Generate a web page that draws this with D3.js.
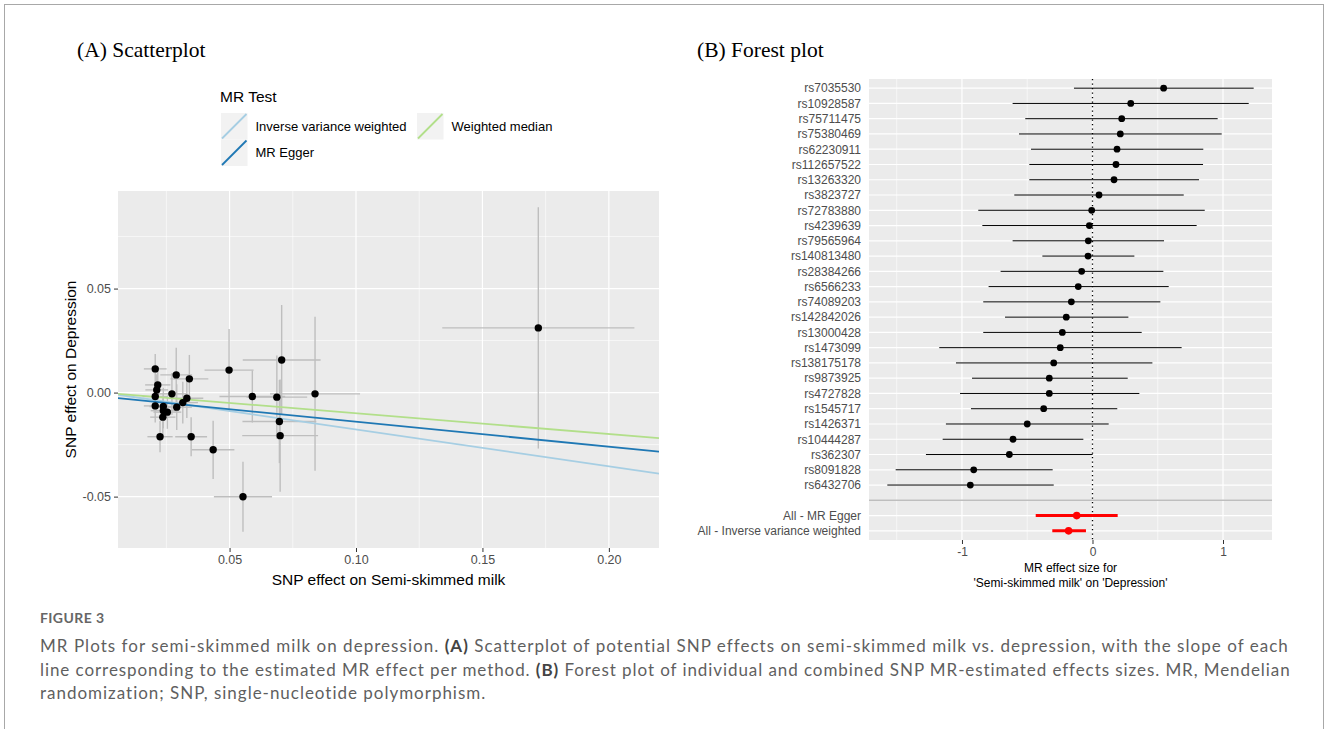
<!DOCTYPE html>
<html>
<head>
<meta charset="utf-8">
<script src="https://cdn.jsdelivr.net/npm/d3@7"></script>
<style>
body { margin: 0; background: #fff; }
</style>
</head>
<body>
<svg id="fig" width="1328" height="729"></svg>
<script>
//scatterplot data: SNP effect on semi-skimmed milk (x) and on depression (y), with standard errors
var snpBetaX = [0.0206, 0.0216, 0.0212, 0.0206, 0.0206, 0.0238, 0.0238, 0.0254, 0.0236, 0.0272,
                0.0331, 0.0315, 0.0291, 0.0225, 0.0348, 0.0435, 0.0590, 0.0687, 0.0697, 0.0700,
                0.0838, 0.0553, 0.0341, 0.0289, 0.0498, 0.0706, 0.1721];
var snpBetaY = [0.0114, 0.0037, 0.0013, -0.0019, -0.0064, -0.0067, -0.0087, -0.0094, -0.0118, -0.0006,
                -0.0027, -0.0048, -0.0070, -0.0212, -0.0212, -0.0275, -0.0019, -0.0022, -0.0139, -0.0207,
                -0.0006, -0.0501, 0.0066, 0.0085, 0.0108, 0.0157, 0.0311];
var snpSeX = [0.0045, 0.0050, 0.0045, 0.0050, 0.0045, 0.0055, 0.0050, 0.0055, 0.0050, 0.0060,
              0.0065, 0.0060, 0.0060, 0.0050, 0.0063, 0.0084, 0.0130, 0.0120, 0.0146, 0.0150,
              0.0178, 0.0115, 0.0075, 0.0063, 0.0097, 0.0154, 0.0380];
var snpSeY = [0.0072, 0.0080, 0.0075, 0.0070, 0.0080, 0.0090, 0.0085, 0.0080, 0.0090, 0.0100,
              0.0095, 0.0100, 0.0110, 0.0075, 0.0094, 0.0140, 0.0125, 0.0200, 0.0200, 0.0270,
              0.0370, 0.0168, 0.0115, 0.0130, 0.0198, 0.0264, 0.0580];

//MR methods drawn as lines (slope and intercept)
var methodNames = ["Inverse variance weighted", "MR Egger", "Weighted median"];
var methodSlopes = [-0.177, -0.120, -0.0995];
var methodIntercepts = [0, -0.0020, 0];
var methodColors = ["#a6cee3", "#1f78b4", "#b2df8a"];

//forest plot data, single SNPs (top to bottom)
var forestSnps = ["rs7035530", "rs10928587", "rs75711475", "rs75380469", "rs62230911", "rs112657522",
                  "rs13263320", "rs3823727", "rs72783880", "rs4239639", "rs79565964", "rs140813480",
                  "rs28384266", "rs6566233", "rs74089203", "rs142842026", "rs13000428", "rs1473099",
                  "rs138175178", "rs9873925", "rs4727828", "rs1545717", "rs1426371", "rs10444287",
                  "rs362307", "rs8091828", "rs6432706"];
var forestB = [0.545, 0.293, 0.224, 0.213, 0.188, 0.180, 0.165, 0.050, -0.006, -0.024,
               -0.032, -0.034, -0.083, -0.109, -0.162, -0.201, -0.231, -0.247, -0.297, -0.331,
               -0.331, -0.374, -0.500, -0.609, -0.637, -0.910, -0.936];
var forestLo = [-0.142, -0.612, -0.515, -0.563, -0.471, -0.484, -0.484, -0.599, -0.875, -0.844,
                -0.612, -0.384, -0.704, -0.796, -0.837, -0.670, -0.837, -1.174, -1.046, -0.923,
                -1.015, -0.931, -1.123, -1.148, -1.276, -1.508, -1.572];
var forestHi = [1.235, 1.197, 0.959, 0.990, 0.849, 0.847, 0.816, 0.699, 0.860, 0.798,
                0.548, 0.321, 0.543, 0.584, 0.520, 0.275, 0.377, 0.683, 0.459, 0.270,
                0.359, 0.190, 0.124, -0.070, 0.001, -0.305, -0.297];

//forest plot data, combined estimates
var summaryNames = ["All - MR Egger", "All - Inverse variance weighted"];
var summaryB = [-0.121, -0.183];
var summaryLo = [-0.435, -0.308];
var summaryHi = [0.193, -0.050];

//tick values
var scatterXTicks = [0.05, 0.10, 0.15, 0.20];
var scatterYTicks = [-0.05, 0.00, 0.05];
var forestXTicks = [-1, 0, 1];

var svg = d3.select("#fig");
var sans = "'Liberation Sans', Arial, sans-serif";
var grey = "#4d4d4d";

//outer frame of the figure
svg.append("rect")
    .attr("x", 4.5).attr("y", 4.5)
    .attr("width", 1319).attr("height", 760)
    .attr("fill", "none").attr("stroke", "#a8a8a8");

//panel titles
svg.append("text").attr("x", 77).attr("y", 57)
    .attr("font-family", "'Liberation Serif', 'Times New Roman', serif")
    .attr("font-size", 21.5).text("(A) Scatterplot");
svg.append("text").attr("x", 697).attr("y", 57)
    .attr("font-family", "'Liberation Serif', 'Times New Roman', serif")
    .attr("font-size", 21.5).text("(B) Forest plot");

//ggplot style gives minor breaks half way between major breaks
function minorBreaks(major, domain) {
    var step = major[1] - major[0];
    var out = [];
    for (var i = -1; i < major.length; i++) {
        var v = major[0] + step * (i + 0.5);
        if (v > domain[0] && v < domain[1]) out.push(v);
    }
    return out;
}

//5% expansion like ggplot continuous scales
function expand(lo, hi) {
    var r = hi - lo;
    return [lo - 0.05 * r, hi + 0.05 * r];
}

// ---------------- (A) scatterplot ----------------
var pA = {left: 118, right: 659, top: 191, bottom: 548};

var xDomA = expand(d3.min(snpBetaX, function(d, i) { return d - snpSeX[i]; }),
                   d3.max(snpBetaX, function(d, i) { return d + snpSeX[i]; }));
var yDomA = expand(d3.min(snpBetaY, function(d, i) { return d - snpSeY[i]; }),
                   d3.max(snpBetaY, function(d, i) { return d + snpSeY[i]; }));

var xA = d3.scaleLinear().domain(xDomA).range([pA.left, pA.right]);
var yA = d3.scaleLinear().domain(yDomA).range([pA.bottom, pA.top]);

var gA = svg.append("g");

gA.append("rect")
    .attr("x", pA.left).attr("y", pA.top)
    .attr("width", pA.right - pA.left).attr("height", pA.bottom - pA.top)
    .attr("fill", "#ebebeb");

//minor grid
gA.selectAll(".vminor").data(minorBreaks(scatterXTicks, xDomA)).enter().append("line")
    .attr("x1", function(d) { return xA(d); }).attr("x2", function(d) { return xA(d); })
    .attr("y1", pA.top).attr("y2", pA.bottom)
    .attr("stroke", "#fff").attr("stroke-width", 0.6);
gA.selectAll(".hminor").data(minorBreaks(scatterYTicks, yDomA)).enter().append("line")
    .attr("y1", function(d) { return yA(d); }).attr("y2", function(d) { return yA(d); })
    .attr("x1", pA.left).attr("x2", pA.right)
    .attr("stroke", "#fff").attr("stroke-width", 0.6);
//major grid
gA.selectAll(".vmajor").data(scatterXTicks).enter().append("line")
    .attr("x1", function(d) { return xA(d); }).attr("x2", function(d) { return xA(d); })
    .attr("y1", pA.top).attr("y2", pA.bottom)
    .attr("stroke", "#fff").attr("stroke-width", 1.2);
gA.selectAll(".hmajor").data(scatterYTicks).enter().append("line")
    .attr("y1", function(d) { return yA(d); }).attr("y2", function(d) { return yA(d); })
    .attr("x1", pA.left).attr("x2", pA.right)
    .attr("stroke", "#fff").attr("stroke-width", 1.2);

svg.append("clipPath").attr("id", "clipA").append("rect")
    .attr("x", pA.left).attr("y", pA.top)
    .attr("width", pA.right - pA.left).attr("height", pA.bottom - pA.top);

var idx = d3.range(snpBetaX.length);

//vertical and horizontal error bars
gA.selectAll(".ebv").data(idx).enter().append("line")
    .attr("x1", function(i) { return xA(snpBetaX[i]); })
    .attr("x2", function(i) { return xA(snpBetaX[i]); })
    .attr("y1", function(i) { return yA(snpBetaY[i] - snpSeY[i]); })
    .attr("y2", function(i) { return yA(snpBetaY[i] + snpSeY[i]); })
    .attr("stroke", "#bebebe").attr("stroke-width", 1.4);
gA.selectAll(".ebh").data(idx).enter().append("line")
    .attr("y1", function(i) { return yA(snpBetaY[i]); })
    .attr("y2", function(i) { return yA(snpBetaY[i]); })
    .attr("x1", function(i) { return xA(snpBetaX[i] - snpSeX[i]); })
    .attr("x2", function(i) { return xA(snpBetaX[i] + snpSeX[i]); })
    .attr("stroke", "#bebebe").attr("stroke-width", 1.4);

//method lines across the whole panel
gA.append("g").attr("clip-path", "url(#clipA)")
    .selectAll("line").data(d3.range(methodNames.length)).enter().append("line")
    .attr("x1", xA(xDomA[0])).attr("x2", xA(xDomA[1]))
    .attr("y1", function(m) { return yA(methodIntercepts[m] + methodSlopes[m] * xDomA[0]); })
    .attr("y2", function(m) { return yA(methodIntercepts[m] + methodSlopes[m] * xDomA[1]); })
    .attr("stroke", function(m) { return methodColors[m]; })
    .attr("stroke-width", 1.8);

//points
gA.selectAll("circle").data(idx).enter().append("circle")
    .attr("cx", function(i) { return xA(snpBetaX[i]); })
    .attr("cy", function(i) { return yA(snpBetaY[i]); })
    .attr("r", 3.7).attr("fill", "#000");

//axes
var axAx = gA.append("g").attr("transform", "translate(0," + pA.bottom + ")")
    .call(d3.axisBottom(xA).tickValues(scatterXTicks).tickFormat(d3.format(".2f")).tickSize(4).tickPadding(3));
var axAy = gA.append("g").attr("transform", "translate(" + pA.left + ",0)")
    .call(d3.axisLeft(yA).tickValues(scatterYTicks).tickFormat(function(d) { return d3.format(".2f")(d).replace("−", "-"); }).tickSize(4).tickPadding(3));
[axAx, axAy].forEach(function(a) {
    a.select(".domain").remove();
    a.selectAll("line").attr("stroke", "#333");
    a.selectAll("text").attr("fill", grey).attr("font-size", 12.5).attr("font-family", sans);
});

gA.append("text")
    .attr("x", (pA.left + pA.right) / 2).attr("y", 585)
    .attr("text-anchor", "middle").attr("font-family", sans).attr("font-size", 15.5)
    .text("SNP effect on Semi-skimmed milk");
gA.append("text")
    .attr("transform", "translate(76," + (pA.top + pA.bottom) / 2 + ") rotate(-90)")
    .attr("text-anchor", "middle").attr("font-family", sans).attr("font-size", 15.5)
    .text("SNP effect on Depression");

//legend
var leg = svg.append("g");
leg.append("text").attr("x", 220).attr("y", 102)
    .attr("font-family", sans).attr("font-size", 15.5).text("MR Test");
var keyPos = [[221, 113], [221, 139.5], [417, 113]];
var keySize = 26.5;
keyPos.forEach(function(p, m) {
    leg.append("rect").attr("x", p[0]).attr("y", p[1])
        .attr("width", keySize).attr("height", keySize).attr("fill", "#f2f2f2");
    leg.append("line")
        .attr("x1", p[0] + 1).attr("y1", p[1] + keySize - 1)
        .attr("x2", p[0] + keySize - 1).attr("y2", p[1] + 1)
        .attr("stroke", methodColors[m]).attr("stroke-width", 1.8);
    leg.append("text").attr("x", p[0] + keySize + 8).attr("y", p[1] + keySize / 2 + 4.5)
        .attr("font-family", sans).attr("font-size", 13).text(methodNames[m]);
});

// ---------------- (B) forest plot ----------------
var pB = {left: 869, right: 1272, top: 79, bottom: 540};

var rows = forestSnps.concat([""], summaryNames);
var yB = d3.scalePoint().domain(rows).range([pB.top, pB.bottom]).padding(0.6);

var xDomB = expand(d3.min(forestLo.concat(summaryLo)), d3.max(forestHi.concat(summaryHi)));
var xB = d3.scaleLinear().domain(xDomB).range([pB.left, pB.right]);

var gB = svg.append("g");
gB.append("rect")
    .attr("x", pB.left).attr("y", pB.top)
    .attr("width", pB.right - pB.left).attr("height", pB.bottom - pB.top)
    .attr("fill", "#ebebeb");

gB.selectAll(".vminor").data(minorBreaks(forestXTicks, xDomB)).enter().append("line")
    .attr("x1", function(d) { return xB(d); }).attr("x2", function(d) { return xB(d); })
    .attr("y1", pB.top).attr("y2", pB.bottom)
    .attr("stroke", "#fff").attr("stroke-width", 0.6);
gB.selectAll(".vmajor").data(forestXTicks).enter().append("line")
    .attr("x1", function(d) { return xB(d); }).attr("x2", function(d) { return xB(d); })
    .attr("y1", pB.top).attr("y2", pB.bottom)
    .attr("stroke", "#fff").attr("stroke-width", 1.2);
gB.selectAll(".hmajor").data(rows).enter().append("line")
    .attr("y1", function(d) { return yB(d); }).attr("y2", function(d) { return yB(d); })
    .attr("x1", pB.left).attr("x2", pB.right)
    .attr("stroke", "#fff").attr("stroke-width", 1.2);

//separator before the combined estimates
gB.append("line")
    .attr("x1", pB.left).attr("x2", pB.right)
    .attr("y1", yB("")).attr("y2", yB(""))
    .attr("stroke", "#bebebe").attr("stroke-width", 1.4);

//null effect line
gB.append("line")
    .attr("x1", xB(0)).attr("x2", xB(0))
    .attr("y1", pB.top).attr("y2", pB.bottom)
    .attr("stroke", "#000").attr("stroke-width", 1.3)
    .attr("stroke-dasharray", "1.3,3.2");

var fi = d3.range(forestSnps.length);
gB.selectAll(".ci").data(fi).enter().append("line")
    .attr("x1", function(i) { return xB(forestLo[i]); })
    .attr("x2", function(i) { return xB(forestHi[i]); })
    .attr("y1", function(i) { return yB(forestSnps[i]); })
    .attr("y2", function(i) { return yB(forestSnps[i]); })
    .attr("stroke", "#000").attr("stroke-width", 1);
gB.selectAll(".pt").data(fi).enter().append("circle")
    .attr("cx", function(i) { return xB(forestB[i]); })
    .attr("cy", function(i) { return yB(forestSnps[i]); })
    .attr("r", 3.4).attr("fill", "#000");

var si = d3.range(summaryNames.length);
gB.selectAll(".sci").data(si).enter().append("line")
    .attr("x1", function(i) { return xB(summaryLo[i]); })
    .attr("x2", function(i) { return xB(summaryHi[i]); })
    .attr("y1", function(i) { return yB(summaryNames[i]); })
    .attr("y2", function(i) { return yB(summaryNames[i]); })
    .attr("stroke", "#ff0000").attr("stroke-width", 3);
gB.selectAll(".spt").data(si).enter().append("circle")
    .attr("cx", function(i) { return xB(summaryB[i]); })
    .attr("cy", function(i) { return yB(summaryNames[i]); })
    .attr("r", 3.8).attr("fill", "#ff0000");

var axBx = gB.append("g").attr("transform", "translate(0," + pB.bottom + ")")
    .call(d3.axisBottom(xB).tickValues(forestXTicks).tickFormat(function(d) { return String(d); }).tickSize(4).tickPadding(3));
axBx.select(".domain").remove();
axBx.selectAll("line").attr("stroke", "#333");
axBx.selectAll("text").attr("fill", grey).attr("font-size", 12).attr("font-family", sans);

//row labels
gB.selectAll(".lab").data(rows).enter().append("text")
    .attr("x", 861).attr("y", function(d) { return yB(d) + 4.3; })
    .attr("text-anchor", "end").attr("fill", grey)
    .attr("font-family", sans).attr("font-size", 12)
    .text(function(d) { return d; });

gB.append("text").attr("x", (pB.left + pB.right) / 2).attr("y", 572)
    .attr("text-anchor", "middle").attr("font-family", sans).attr("font-size", 12)
    .text("MR effect size for");
gB.append("text").attr("x", (pB.left + pB.right) / 2).attr("y", 587)
    .attr("text-anchor", "middle").attr("font-family", sans).attr("font-size", 12)
    .text("'Semi-skimmed milk' on 'Depression'");

// ---------------- caption ----------------
var capFont = "Lato, 'Open Sans', sans-serif";
svg.append("text").attr("x", 40).attr("y", 623)
    .attr("font-family", capFont).attr("font-size", 14).attr("font-weight", 700)
    .attr("letter-spacing", 0.4)
    .attr("fill", "#666").text("FIGURE 3");

var capLines = [
    [["MR Plots for semi-skimmed milk on depression. ", 0], ["(A)", 1],
     [" Scatterplot of potential SNP effects on semi-skimmed milk vs. depression, with the slope of each", 0]],
    [["line corresponding to the estimated MR effect per method. ", 0], ["(B)", 1],
     [" Forest plot of individual and combined SNP MR-estimated effects sizes. MR, Mendelian", 0]],
    [["randomization; SNP, single-nucleotide polymorphism.", 0]]
];
//right end of each caption line in the figure (last line is ragged)
var capEnds = [1288, 1290, null];
var capTexts = [];
capLines.forEach(function(line, k) {
    var t = svg.append("text").attr("x", 40).attr("y", 652 + k * 23.5)
        .attr("font-family", capFont).attr("font-size", 17).attr("fill", "#5f5f5f");
    line.forEach(function(seg) {
        t.append("tspan").attr("font-weight", seg[1] ? 700 : 400)
            .attr("fill", seg[1] ? "#444" : "#5f5f5f").text(seg[0]);
    });
    capTexts.push(t);
});
//widen letter spacing so the full lines end where they do in the figure
var spacings = [];
capTexts.forEach(function(t, k) {
    if (capEnds[k] === null) return;
    var s = (capEnds[k] - 40 - t.node().getComputedTextLength()) / t.text().length;
    spacings.push(s);
    t.attr("letter-spacing", s);
});
capTexts[2].attr("letter-spacing", d3.mean(spacings));
</script>
</body>
</html>
